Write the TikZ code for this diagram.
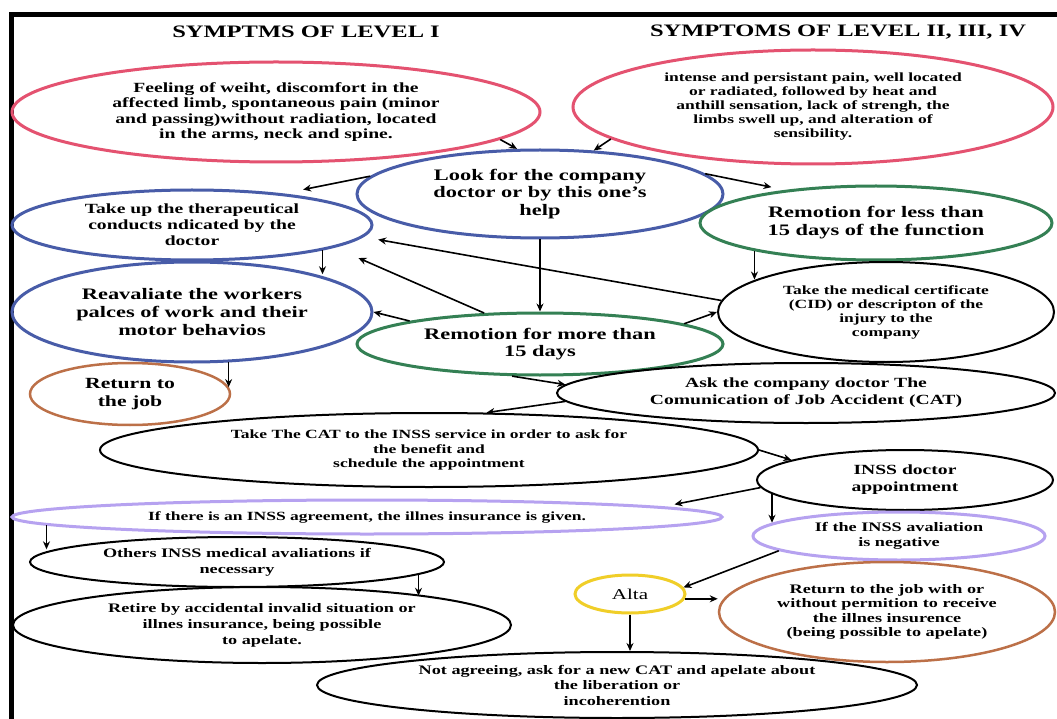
\documentclass[tikz,border=0pt]{standalone}
\usepackage{fontspec}
\setmainfont[FakeStretch=1.4]{Liberation Serif}
\definecolor{SymRed}{RGB}{228,82,112}
\definecolor{StepBlue}{RGB}{72,92,168}
\definecolor{StepGreen}{RGB}{52,128,84}
\definecolor{JobBrown}{RGB}{188,112,72}
\definecolor{InssLilac}{RGB}{182,162,240}
\definecolor{AltaYellow}{RGB}{240,206,40}
\usetikzlibrary{arrows.meta, shapes.geometric, calc}

\begin{document}
\begin{tikzpicture}[x=1pt, y=-1pt, font=\bfseries,
	elip/.style={ellipse, draw, line width=2pt, inner sep=0pt, align=center},
	grueso/.style={line width=3pt},
	fs/.style 2 args={font=\bfseries\fontsize{#1}{#2}\selectfont},
	flecha/.style={-{Stealth[length=8pt, width=7pt]}, line width=1.6pt}]
	\useasboundingbox (0,0) rectangle (1057,719);
	\fill[white] (0,0) rectangle (1057,719);
	\draw[line width=4.5pt] (11.5,719) -- (11.5,14.5) -- (1057,14.5);
	\node[fs={17.5}{20}] (t1) at (306,32) {SYMPTMS OF LEVEL I};
	\node[fs={17.5}{20}] (t2) at (838,32) {SYMPTOMS OF LEVEL II, III, IV};
	\node[elip, grueso, draw=SymRed, minimum width=528pt, minimum height=100pt, fs={14}{15.5}] (lv1) at (276,112) {Feeling of weiht, discomfort in the\\affected limb, spontaneous pain (minor\\and passing)without radiation, located\\in the arms, neck and spine.};
	\node[elip, grueso, draw=SymRed, minimum width=480pt, minimum height=114pt, fs={12.5}{14}] (lv2) at (813,107) {intense and persistant pain, well located\\or radiated, followed by heat and\\anthill sensation, lack of strengh, the\\limbs swell up, and alteration of\\sensibility.};
	\node[elip, grueso, draw=StepBlue, minimum width=366pt, minimum height=88pt, fs={16}{17.5}] (look) at (540,194) {Look for the company\\doctor or by this one's\\help};
	\node[elip, grueso, draw=StepBlue, minimum width=360pt, minimum height=70pt, fs={14}{16}] (ther) at (192,225) {Take up the therapeutical\\conducts ndicated by the\\doctor};
	\node[elip, grueso, draw=StepBlue, minimum width=360pt, minimum height=100pt, fs={16}{18}] (reav) at (192,312) {Reavaliate the workers\\palces of work and their\\motor behavios};
	\node[elip, grueso, draw=StepGreen, minimum width=352pt, minimum height=74pt, fs={16}{18}] (less) at (876,223) {Remotion for less than\\15 days of the function};
	\node[elip, grueso, draw=StepGreen, minimum width=366pt, minimum height=62pt, fs={16}{17}] (more) at (540,344) {Remotion for more than\\15 days};
	\node[elip, minimum width=336pt, minimum height=100pt, fs={12.5}{14}] (cid) at (886,312) {Take the medical certificate\\(CID) or descripton of the\\injury to the\\company};
	\node[elip, line width=2.5pt, draw=JobBrown, minimum width=200pt, minimum height=62pt, fs={15.5}{18}] (ret) at (130,394) {Return to\\the job};
	\node[elip, minimum width=498pt, minimum height=60pt, fs={14}{17}] (cat) at (806,393) {Ask the company doctor The\\Comunication of Job Accident (CAT)};
	\node[elip, minimum width=658pt, minimum height=74pt, fs={12.5}{14.5}] (inss) at (429,450) {Take The CAT to the INSS service in order to ask for\\the benefit and\\schedule the appointment};
	\node[elip, minimum width=296pt, minimum height=60pt, fs={14}{17}] (appt) at (905,480) {INSS doctor\\appointment};
	\node[elip, grueso, draw=InssLilac, minimum width=710pt, minimum height=34pt, fs={12.5}{14}] (agree) at (367,517) {If there is an INSS agreement, the illnes insurance is given.};
	\node[elip, grueso, draw=InssLilac, minimum width=292pt, minimum height=48pt, fs={13}{15}] (neg) at (899,536) {If the INSS avaliation\\is negative};
	\node[elip, minimum width=414pt, minimum height=50pt, fs={13}{16}] (others) at (237,562) {Others INSS medical avaliations if\\necessary};
	\node[elip, minimum width=498pt, minimum height=76pt, fs={13}{16}] (retire) at (262,625) {Retire by accidental invalid situation or\\illnes insurance, being possible\\to apelate.};
	\node[elip, grueso, draw=AltaYellow, minimum width=110pt, minimum height=38pt, font=\mdseries\fontsize{15}{17}\selectfont] (alta) at (630,594) {Alta};
	\node[elip, line width=2.5pt, draw=JobBrown, minimum width=336pt, minimum height=100pt, fs={13}{14.5}] (back) at (887,612) {Return to the job with or\\without permition to receive\\the illnes insurence\\(being possible to apelate)};
	\node[elip, minimum width=600pt, minimum height=66pt, fs={13}{15.5}] (appeal) at (617,685) {Not agreeing, ask for a new CAT and apelate about\\the liberation or\\incoherention};
	\coordinate (agfoot) at ([shift={(36,8)}]agree.west);
	\draw[flecha] (lv1.-7) -- (look.117);
	\draw[flecha] (lv2.189) -- (look.39);
	\draw[flecha, shorten >=20pt] (look.174) -- (ther.19);
	\draw[flecha, shorten >=14pt] (look.7) -- (less.160);
	\draw[flecha] (look.south) -- (more.north);
	\draw[flecha] (ther.-11) -- (ther.-11 |- reav.17);
	\draw[flecha] (less.193) -- (less.193 |- cid.166);
	\draw[flecha, shorten >=15pt] (cid.176) -- (ther.-4);
	\draw[flecha, shorten >=26pt] (more.151) -- (ther.-9);
	\draw[flecha] (more.170) -- (reav.east);
	\draw[flecha] (more.8) -- (cid.west);
	\draw[flecha] (reav.-54) -- (reav.-54 |- ret.4);
	\draw[flecha] (more.229) -- (cat.178);
	\draw[flecha] (cat.182) -- (inss.33);
	\draw[flecha] (inss.east) -- (appt.170);
	\draw[flecha, shorten >=12pt] (appt.183) -- (agree.2);
	\draw[flecha] (appt.186) -- (appt.186 |- neg.174);
	\draw[flecha] (agfoot) -- (agfoot |- others.176);
	\draw[flecha] (others.-4) -- (others.-4 |- retire.10);
	\draw[flecha] (neg.187) -- (alta.7);
	\draw[flecha] (alta.-5) -- (alta.-5 -| back.west);
	\draw[flecha] (alta.south) -- (alta.south |- appeal.north);
\end{tikzpicture}
\end{document}
